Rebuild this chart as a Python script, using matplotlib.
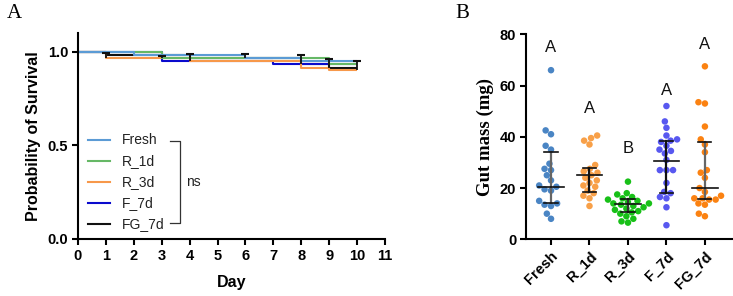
import numpy as np
import matplotlib
matplotlib.use('Agg')
import matplotlib.pyplot as plt
from matplotlib.lines import Line2D

plt.rcParams['font.family'] = ['Liberation Sans', 'DejaVu Sans']

# ---------------- Panel A data (Kaplan-Meier) ----------------
groups = ['Fresh', 'R_1d', 'R_3d', 'F_7d', 'FG_7d']
surv_colors = ['#5B9BD5', '#66B866', '#F7984A', '#0A0ACD', '#111111']
fresh_t = [0, 2, 6, 8, 10]
fresh_s = [1.0, 0.985, 0.967, 0.95, 0.95]
r1_t = [0, 3, 9, 10]
r1_s = [1.0, 0.967, 0.935, 0.935]
r3_t = [0, 1, 4, 8, 9, 10]
r3_s = [1.0, 0.967, 0.95, 0.914, 0.90, 0.90]
f7_t = [0, 3, 7, 10]
f7_s = [1.0, 0.95, 0.935, 0.935]
fg_t = [0, 1, 4, 8, 9, 10]
fg_s = [1.0, 0.985, 0.967, 0.935, 0.914, 0.914]
err_day = [1, 3, 4, 6, 8, 9, 10]
err_lo = [0.967, 0.967, 0.95, 0.967, 0.935, 0.914, 0.90]
err_hi = [0.993, 0.975, 0.99, 0.99, 0.98, 0.963, 0.95]
day_ticks = list(range(0, 12))
surv_ticks = [0.0, 0.5, 1.0]

# ---------------- Panel B data (gut mass) ----------------
fresh_v = [66.0, 42.5, 41.0, 36.5, 35.0, 29.5, 27.5, 27.0, 25.0, 23.0, 21.0,
           20.5, 19.5, 19.0, 15.0, 14.0, 13.5, 13.0, 10.0, 8.0]
r1d_v = [40.5, 39.5, 38.5, 37.0, 29.0, 27.5, 26.5, 26.0, 25.0, 24.0, 23.0,
         22.0, 21.0, 20.5, 19.0, 18.0, 17.0, 16.0, 13.0]
r3d_v = [22.5, 18.0, 17.5, 16.5, 16.0, 15.5, 15.0, 14.5, 14.0, 14.0, 13.5,
         13.0, 12.5, 12.0, 11.5, 11.0, 10.5, 10.0, 9.0, 8.0, 7.0, 6.5]
f7d_v = [52.0, 46.0, 43.5, 40.5, 39.0, 38.5, 38.0, 36.5, 35.0, 34.5, 33.5,
         31.0, 27.0, 27.0, 27.0, 22.0, 18.5, 18.0, 16.5, 16.0, 12.5, 5.5]
fg7d_v = [67.5, 53.5, 53.0, 44.0, 39.0, 37.0, 34.0, 27.0, 26.0, 24.0, 20.0,
          18.5, 17.0, 16.0, 16.0, 15.5, 15.5, 14.0, 13.5, 10.0, 9.0]
mass_values = [fresh_v, r1d_v, r3d_v, f7d_v, fg7d_v]
mass_colors = ['#4A85C4', '#F8A048', '#18C018', '#5858F0', '#FB8212']
medians = [20.6, 25.1, 13.6, 30.7, 19.9]
q_lo = [14.2, 18.6, 10.6, 18.0, 15.6]
q_hi = [33.9, 28.0, 15.6, 38.5, 38.1]
stem_colors = ['#666666', '#111111', '#333333', '#111111', '#666666']
sig_letters = ['A', 'A', 'B', 'A', 'A']
sig_y = [74.8, 51.2, 35.3, 58.0, 75.9]
mass_ticks = [0, 20, 40, 60, 80]

W, H = 733, 296
fig = plt.figure(figsize=(W / 100, H / 100), dpi=100)

# ---------------- Panel A ----------------
axA = fig.add_axes([78 / W, 1 - 239 / H, (385 - 78) / W, (239 - 33) / H])
curves = [(fg_t, fg_s, 4), (f7_t, f7_s, 3), (r3_t, r3_s, 2), (r1_t, r1_s, 1), (fresh_t, fresh_s, 0)]
for t, s, gi in curves:
    axA.step(t, s, where='post', color=surv_colors[gi], lw=1.5, solid_capstyle='butt')
axA.vlines(err_day, err_lo, err_hi, color='#111111', lw=1.3, zorder=4)
axA.plot(err_day, err_hi, ls='none', marker='_', markersize=6, markeredgewidth=1.5,
         color='#111111', zorder=4)
axA.set_xlim(0, 11)
axA.set_ylim(0, 1.1)
axA.set_xticks(day_ticks)
axA.set_yticks(surv_ticks)
axA.set_yticklabels([f'{v:.1f}' for v in surv_ticks])
for sp in ['top', 'right']:
    axA.spines[sp].set_visible(False)
for sp in ['left', 'bottom']:
    axA.spines[sp].set_linewidth(1.5)
axA.tick_params(direction='out', length=4, width=1.5, labelsize=10.5, pad=3)
for lab in axA.get_xticklabels() + axA.get_yticklabels():
    lab.set_fontweight('bold')
axA.set_xlabel('Day', fontsize=11.5, fontweight='bold', labelpad=9)
axA.set_ylabel('Probability of Survival', fontsize=11.5, fontweight='bold', labelpad=5)

# manual legend with bracket
leg_y = [0.48, 0.379, 0.277, 0.175, 0.073]
for i, g in enumerate(groups):
    axA.add_line(Line2D([0.033, 0.104], [leg_y[i], leg_y[i]], transform=axA.transAxes,
                        color=surv_colors[i], lw=1.5))
    axA.text(0.143, leg_y[i], g, transform=axA.transAxes, fontsize=10,
             va='center', ha='left', color='#222222')
axA.add_line(Line2D([0.300, 0.332, 0.332, 0.300], [0.476, 0.476, 0.078, 0.078],
                    transform=axA.transAxes, color='#333333', lw=0.9))
axA.text(0.352, 0.277, 'ns', transform=axA.transAxes, fontsize=10, va='center',
         ha='left', color='#222222')

fig.text(14 / W, 1 - 14 / H, 'A', fontsize=15, family=['Liberation Serif'], va='center', ha='center')

# ---------------- Panel B ----------------
axB = fig.add_axes([526 / W, 1 - 239.3 / H, (733 - 526) / W, (239.3 - 34.3) / H])
xpos = np.arange(len(groups))
axB.set_xlim(-0.65, 4.73)
axB.set_ylim(0, 80)


def swarm_x(vals, ax, xc, d):
    tr = ax.transData
    ypx = np.array([tr.transform((xc, v))[1] for v in vals])
    order = np.argsort(ypx)
    placed = []
    offs = np.zeros(len(vals))
    for i in order:
        y = ypx[i]
        intervals = []
        for px, py in placed:
            dy = abs(y - py)
            if dy < d:
                w = np.sqrt(d * d - dy * dy)
                intervals.append((px - w, px + w))
        cands = [0.0] + [a for a, b in intervals] + [b for a, b in intervals]
        cands.sort(key=lambda c: (abs(c), c))
        for c in cands:
            if all(not (a + 1e-9 < c < b - 1e-9) for a, b in intervals):
                offs[i] = c
                break
        placed.append((offs[i], y))
    x0 = tr.transform((xc, 0))[0]
    x1 = tr.transform((xc + 1, 0))[0]
    return xc + offs / (x1 - x0)


for i, vals in enumerate(mass_values):
    xs = swarm_x(vals, axB, xpos[i], 6.6)
    axB.scatter(xs, vals, s=22, color=mass_colors[i], edgecolors='none', zorder=2)
    # median and IQR bars
    axB.plot([xpos[i], xpos[i]], [q_lo[i], q_hi[i]], color=stem_colors[i], lw=1.6, zorder=3)
    axB.plot([xpos[i] - 0.33, xpos[i] + 0.33], [medians[i], medians[i]], color='#111111', lw=1.2, zorder=3)
    for q in (q_lo[i], q_hi[i]):
        axB.plot([xpos[i] - 0.17, xpos[i] + 0.17], [q, q], color='#111111', lw=1.2, zorder=3)
    axB.text(xpos[i], sig_y[i], sig_letters[i], fontsize=12, ha='center', va='center',
             color='#111111')

axB.set_xticks(xpos)
axB.set_xticklabels(groups, rotation=45, ha='right', rotation_mode='anchor',
                    fontweight='bold', fontsize=10.5)
axB.set_yticks(mass_ticks)
for lab in axB.get_yticklabels():
    lab.set_fontweight('bold')
for sp in ['top', 'right']:
    axB.spines[sp].set_visible(False)
for sp in ['left', 'bottom']:
    axB.spines[sp].set_linewidth(1.5)
axB.tick_params(direction='out', length=4, width=1.5, labelsize=10.5, pad=3)
axB.set_ylabel('Gut mass (mg)', fontsize=13.5, fontweight='bold',
               family=['Liberation Serif'], labelpad=4)

fig.text(462 / W, 1 - 14 / H, 'B', fontsize=15, family=['Liberation Serif'], va='center', ha='center')

fig.savefig('out.png', dpi=100)
